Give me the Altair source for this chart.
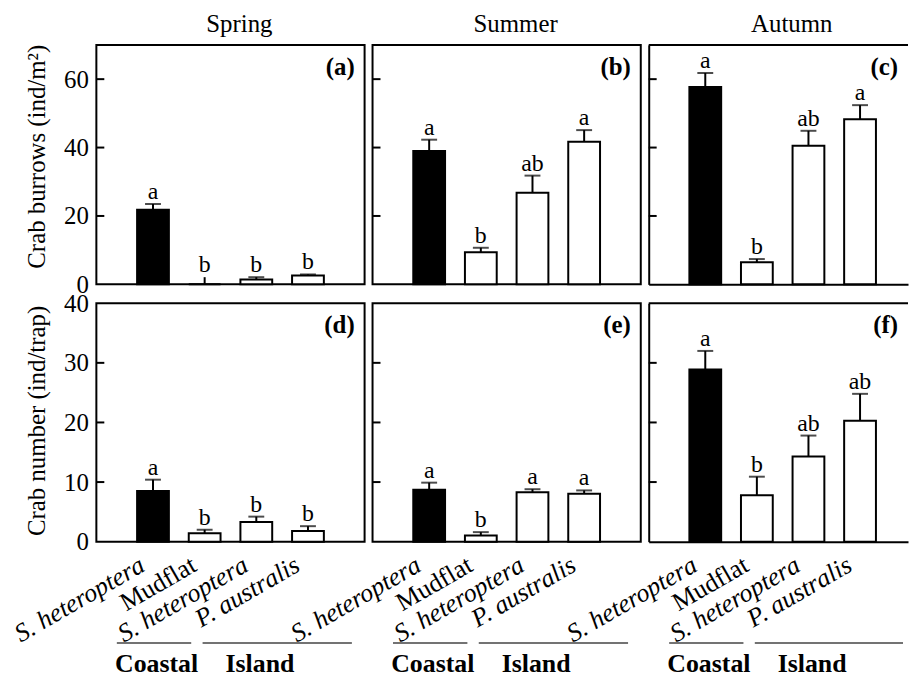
import json
import altair as alt
import pandas as pd

FONT = "Liberation Serif"

# ---------------- data ----------------
seasons = ["Spring", "Summer", "Autumn"]
sites = ["S. heteroptera", "Mudflat", "S. heteroptera", "P. australis"]
zones = ["Coastal", "Island", "Island", "Island"]
site_pos = [1, 2, 3, 4]

# Crab burrows (ind/m2): mean and SE
burrows_spring = [21.8, 0.0, 1.4, 2.6]
burrows_summer = [39.0, 9.4, 26.8, 41.7]
burrows_autumn = [57.7, 6.5, 40.5, 48.3]
burrows_se_spring = [1.7, 2.1, 0.7, 0.3]
burrows_se_summer = [3.3, 1.3, 5.0, 3.4]
burrows_se_autumn = [4.1, 0.9, 4.4, 4.1]
burrows_letters_spring = ["a", "b", "b", "b"]
burrows_letters_summer = ["a", "b", "ab", "a"]
burrows_letters_autumn = ["a", "b", "ab", "a"]

# Crab number (ind/trap): mean and SE
number_spring = [8.5, 1.4, 3.3, 1.8]
number_summer = [8.7, 1.05, 8.3, 8.05]
number_autumn = [28.9, 7.8, 14.3, 20.3]
number_se_spring = [1.9, 0.6, 0.9, 0.8]
number_se_summer = [1.2, 0.55, 0.5, 0.55]
number_se_autumn = [3.1, 3.1, 3.5, 4.5]
number_letters_spring = ["a", "b", "b", "b"]
number_letters_summer = ["a", "b", "a", "a"]
number_letters_autumn = ["a", "b", "ab", "ab"]

panel_tags = ["(a)", "(b)", "(c)", "(d)", "(e)", "(f)"]
burrows_ticks = [0, 20, 40, 60]
number_ticks = [0, 10, 20, 30, 40]
burrows_inner_ticks = [20, 40, 60]
number_inner_ticks = [10, 20, 30]
groups = ["Coastal", "Island"]

# ---------------- layout constants ----------------
STEP = 54.0                    # px per site slot
WIDTHS = [270, 270, 261]
HEIGHTS = [241, 240]
GROUP_START = [0.30, 1.96]     # bracket lines under the x labels (x units)
GROUP_END = [1.74, 4.85]
GROUP_CENTER = [1.07, 3.07]

label_expr = json.dumps(sites) + "[datum.value - 1]"


def make_panel(means, ses, letters, tag, ymax, ticks, inner, ytitle,
               row, col, title=None):
    width = WIDTHS[col]
    height = HEIGHTS[row]
    xmax = width / STEP
    first_col = col == 0
    last_col = col == 2
    bottom = row == 1

    df = pd.DataFrame({"pos": site_pos, "site": sites, "zone": zones,
                       "mean": means, "se": ses, "letter": letters})
    df["upper"] = df["mean"] + df["se"]

    xscale = alt.Scale(domain=[0, xmax], nice=False, zero=False)
    if bottom:
        xaxis = alt.Axis(values=site_pos, labelExpr=label_expr, labelAngle=-30,
                         labelAlign="right", labelBaseline="alphabetic",
                         labelPadding=28, labelOffset=-7, ticks=False, tickSize=0,
                         domain=last_col, domainColor="black", domainWidth=2,
                         grid=False, title=None, labelFontSize=26, labelFlush=False,
                         labelOverlap=False, labelColor="black",
                         labelFontStyle={"condition": {"test": "datum.value == 2",
                                                       "value": "normal"},
                                         "value": "italic"})
    elif last_col:
        xaxis = alt.Axis(labels=False, ticks=False, domain=True, domainColor="black",
                         domainWidth=2, grid=False, title=None)
    else:
        xaxis = None

    yscale = alt.Scale(domain=[0, ymax], nice=False, zero=True)
    if first_col:
        yaxis = alt.Axis(values=ticks, ticks=False, tickSize=0, labelPadding=8,
                         domain=False, grid=False, title=ytitle, titleAngle=-90,
                         titleX=-52, titleY=(112 if row == 0 else 118),
                         titleAlign="center", titleBaseline="alphabetic",
                         titleFontSize=25, titleFontWeight="normal",
                         labelFontSize=25, labelColor="black", titleColor="black")
    elif last_col:
        yaxis = alt.Axis(labels=False, ticks=False, domain=True, domainColor="black",
                         domainWidth=2, grid=False, title=None)
    else:
        yaxis = None

    def X(field):
        return alt.X(field, scale=xscale, axis=xaxis)

    def Y(field):
        return alt.Y(field, scale=yscale, axis=yaxis)

    base = alt.Chart(df)
    bars = base.mark_bar(orient="vertical", width=32, stroke="black",
                         strokeWidth=2).encode(
        x=X("pos:Q"), y=Y("mean:Q"),
        fill=alt.Fill("zone:N", scale=alt.Scale(domain=["Coastal", "Island"],
                                                range=["black", "white"]),
                      legend=None))
    err = base.mark_rule(color="black", strokeWidth=2).encode(
        x=X("pos:Q"), y=Y("mean:Q"), y2="upper:Q")
    caps = base.transform_filter("datum.mean > 0").mark_tick(
        orient="horizontal", size=16, thickness=2, color="black").encode(
        x=X("pos:Q"), y=Y("upper:Q"))
    lets = base.mark_text(dy=-5, baseline="alphabetic", fontSize=24,
                          color="black").encode(
        x=X("pos:Q"), y=Y("upper:Q"), text="letter:N")
    tagc = alt.Chart(pd.DataFrame({"tag": [tag]})).mark_text(
        align="right", baseline="alphabetic", fontWeight="bold", fontSize=25,
        color="black").encode(x=alt.value(width - 10), y=alt.value(30),
                              text="tag:N")
    inner_ticks = alt.Chart(pd.DataFrame({"t": inner})).mark_rule(
        color="black", strokeWidth=2).encode(
        y=Y("t:Q"), x=alt.value(0), x2=alt.value(8))

    layers = [bars, err, caps, lets, tagc, inner_ticks]

    if title is not None:
        ttl = alt.Chart(pd.DataFrame({"season": [title]})).mark_text(
            align="center", baseline="alphabetic", fontSize=25,
            color="black").encode(x=alt.value(144), y=alt.value(-13),
                                  text="season:N")
        layers.append(ttl)

    if last_col:
        toprule = alt.Chart(pd.DataFrame({"k": [1]})).mark_rule(
            color="black", strokeWidth=2).encode(
            x=alt.value(0), x2=alt.value(width), y=alt.value(0))
        layers.append(toprule)

    if bottom:
        gdf = pd.DataFrame({"group": groups, "start": GROUP_START,
                            "end": [min(e, xmax) for e in GROUP_END],
                            "center": GROUP_CENTER})
        glines = alt.Chart(gdf).mark_rule(color="#444", strokeWidth=1.5).encode(
            x=X("start:Q"), x2="end:Q", y=alt.value(height + 102))
        gtext = alt.Chart(gdf).mark_text(fontWeight="bold", fontSize=26,
                                         baseline="alphabetic", color="black").encode(
            x=X("center:Q"), y=alt.value(height + 131), text="group:N")
        layers += [glines, gtext]

    if last_col:
        view = alt.ViewBackground(strokeOpacity=0, fill="white")
    else:
        view = alt.ViewBackground(stroke="black", strokeWidth=2, fill="white")

    return alt.layer(*layers).properties(width=width, height=height, view=view)


a = make_panel(burrows_spring, burrows_se_spring, burrows_letters_spring, panel_tags[0],
               70, burrows_ticks, burrows_inner_ticks, "Crab burrows (ind/m²)", 0, 0, seasons[0])
b = make_panel(burrows_summer, burrows_se_summer, burrows_letters_summer, panel_tags[1],
               70, burrows_ticks, burrows_inner_ticks, None, 0, 1, seasons[1])
c = make_panel(burrows_autumn, burrows_se_autumn, burrows_letters_autumn, panel_tags[2],
               70, burrows_ticks, burrows_inner_ticks, None, 0, 2, seasons[2])
d = make_panel(number_spring, number_se_spring, number_letters_spring, panel_tags[3],
               40, number_ticks, number_inner_ticks, "Crab number (ind/trap)", 1, 0)
e = make_panel(number_summer, number_se_summer, number_letters_summer, panel_tags[4],
               40, number_ticks, number_inner_ticks, None, 1, 1)
f = make_panel(number_autumn, number_se_autumn, number_letters_autumn, panel_tags[5],
               40, number_ticks, number_inner_ticks, None, 1, 2)

chart = alt.concat(a, b, c, d, e, f, columns=3,
                   spacing={"row": 19, "column": 8}, bounds="flush").properties(
    padding={"left": 8, "top": 9, "right": 0, "bottom": 0},
    background="white",
).configure(font=FONT).configure_axis(
    labelFont=FONT, titleFont=FONT
).configure_text(font=FONT).configure_title(font=FONT)

chart.save("out.html", embed_options={"renderer": "svg", "actions": False})
